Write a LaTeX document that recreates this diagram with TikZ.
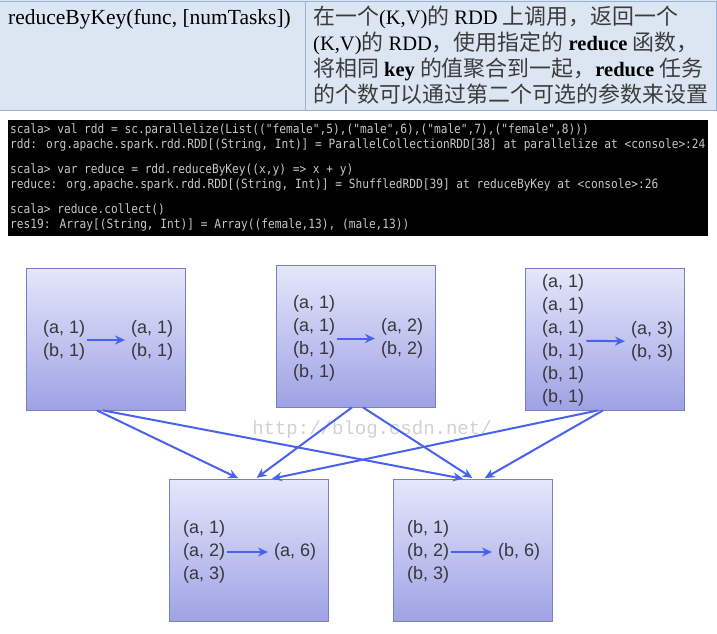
\documentclass[tikz,border=0pt]{standalone}
\usepackage{fontspec}
\setmainfont{Liberation Serif}
\newfontfamily\zhfont[Scale=1.07]{Noto Sans CJK SC}
\newfontfamily\consolefont[FakeStretch=0.88]{DejaVu Sans Mono}
\newfontfamily\pairfont{Liberation Sans}
\newfontfamily\wmfont{Liberation Mono}
\usepackage{tikz}
\usetikzlibrary{
        arrows.meta,
        positioning,
        shapes
    }
\definecolor{cellblue}{RGB}{220,230,242}
\definecolor{cellline}{RGB}{149,179,215}
\definecolor{zhgray}{RGB}{60,60,60}
\definecolor{boxtop}{RGB}{229,231,250}
\definecolor{boxbot}{RGB}{158,162,228}
\definecolor{boxline}{RGB}{122,126,190}
\definecolor{flowblue}{RGB}{72,98,238}
\definecolor{pairgray}{RGB}{55,55,60}
\newcommand{\zh}[1]{{\zhfont\color{zhgray}#1}}
\tikzset{>={Stealth[length=10pt,width=9pt]},auto,node distance=2cm}
\tikzset{
    rddbox/.style={draw=boxline,line width=0.8pt,top color=boxtop,bottom color=boxbot,
        minimum width=159pt,minimum height=142pt,inner sep=0pt},
    pairs/.style={align=left,inner sep=0pt,text=pairgray,
        font=\pairfont\fontsize{18}{23}\selectfont},
    flow/.style={->,color=flowblue,line width=2pt,shorten <=2pt,shorten >=6pt},
    link/.style={->,color=flowblue,line width=2pt,shorten >=2pt},
    watermark/.style={text=black!18,font=\wmfont\fontsize{19}{19}\selectfont}
}

\begin{document}
\begin{tikzpicture}[x=1pt,y=-1pt]
                \useasboundingbox (0,0) rectangle (717,633);
                \fill[cellblue] (0,0) rectangle (717,110);
                \draw[cellline,line width=1pt] (0,1) -- (717,1) (0,110) -- (717,110)
                    (305,1) -- (305,110) (716.5,1) -- (716.5,110);
                \node[anchor=base west,inner sep=0pt,font=\fontsize{21.5}{26}\selectfont] (op) at (8,24)
                    {reduceByKey(func, [numTasks])};
                \node[anchor=north west,inner sep=0pt,align=left,font=\fontsize{20.5}{25.8}\selectfont] (desc) at (313,6)
                    {\zh{在一个}(K,V)\zh{的} RDD \zh{上调用，返回一个}\\
                     (K,V)\zh{的} RDD\zh{，使用指定的} \textbf{reduce} \zh{函数，}\\
                     \zh{将相同} \textbf{key} \zh{的值聚合到一起，}\textbf{reduce} \zh{任务}\\
                     \zh{的个数可以通过第二个可选的参数来设置}};
                \fill[black] (8,120) rectangle (708,236);
                \node[anchor=north west,inner sep=0pt,align=left,text=black!22,
                    font=\consolefont\fontsize{12.7}{15}\selectfont] (shell) at (10,124)
                    {scala> val rdd = sc.parallelize(List(("female",5),("male",6),("male",7),("female",8)))\\
                     rdd: org.apache.spark.rdd.RDD[(String, Int)] = ParallelCollectionRDD[38] at parallelize at <console>:24\\[10pt]
                     scala> var reduce = rdd.reduceByKey((x,y) => x + y)\\
                     reduce: org.apache.spark.rdd.RDD[(String, Int)] = ShuffledRDD[39] at reduceByKey at <console>:26\\[10pt]
                     scala> reduce.collect()\\
                     res19: Array[(String, Int)] = Array((female,13), (male,13))};
                \node[watermark] (wm) at (372,430) {http://blog.csdn.net/};
                \node[rddbox] (p1) at (105.5,339) {};
                \node[rddbox] (p2) at (355.5,336) {};
                \node[rddbox] (p3) at (604.5,339) {};
                \node[rddbox] (r1) at (249,550.5) {};
                \node[rddbox] (r2) at (473,550.5) {};
                \node[pairs,anchor=west] (in1) at (43,340) {(a, 1)\\(b, 1)};
                \node[pairs,anchor=west] (out1) at (131,340) {(a, 1)\\(b, 1)};
                \node[pairs,anchor=west] (in2) at (293,338.5) {(a, 1)\\(a, 1)\\(b, 1)\\(b, 1)};
                \node[pairs,anchor=west] (out2) at (381,338.5) {(a, 2)\\(b, 2)};
                \node[pairs,anchor=west] (in3) at (542,340.5) {(a, 1)\\(a, 1)\\(a, 1)\\(b, 1)\\(b, 1)\\(b, 1)};
                \node[pairs,anchor=west] (out3) at (631,341.5) {(a, 3)\\(b, 3)};
                \node[pairs,anchor=west] (in4) at (183,552) {(a, 1)\\(a, 2)\\(a, 3)};
                \node[pairs,anchor=west] (out4) at (274,552) {(a, 6)};
                \node[pairs,anchor=west] (in5) at (407,552) {(b, 1)\\(b, 2)\\(b, 3)};
                \node[pairs,anchor=west] (out5) at (498,552) {(b, 6)};
                \path[flow]
                    (in1) edge (out1)
                    (in2) edge (out2)
                    (in3) edge (out3)
                    (in4) edge (out4)
                    (in5) edge (out5);
                \path[link]
                    ([xshift=-8.5pt]p1.south) edge ([xshift=-9pt]r1.north)
                    ([xshift=-2.5pt]p1.south) edge ([xshift=-8pt]r2.north)
                    ([xshift=-3.5pt]p2.south) edge ([xshift=6pt]r1.north)
                    ([xshift=7.5pt]p2.south) edge ([xshift=1pt]r2.north)
                    ([xshift=-6.5pt]p3.south) edge ([xshift=21pt]r1.north)
                    ([xshift=-1.5pt]p3.south) edge ([xshift=10pt]r2.north);
\end{tikzpicture}
\end{document}
